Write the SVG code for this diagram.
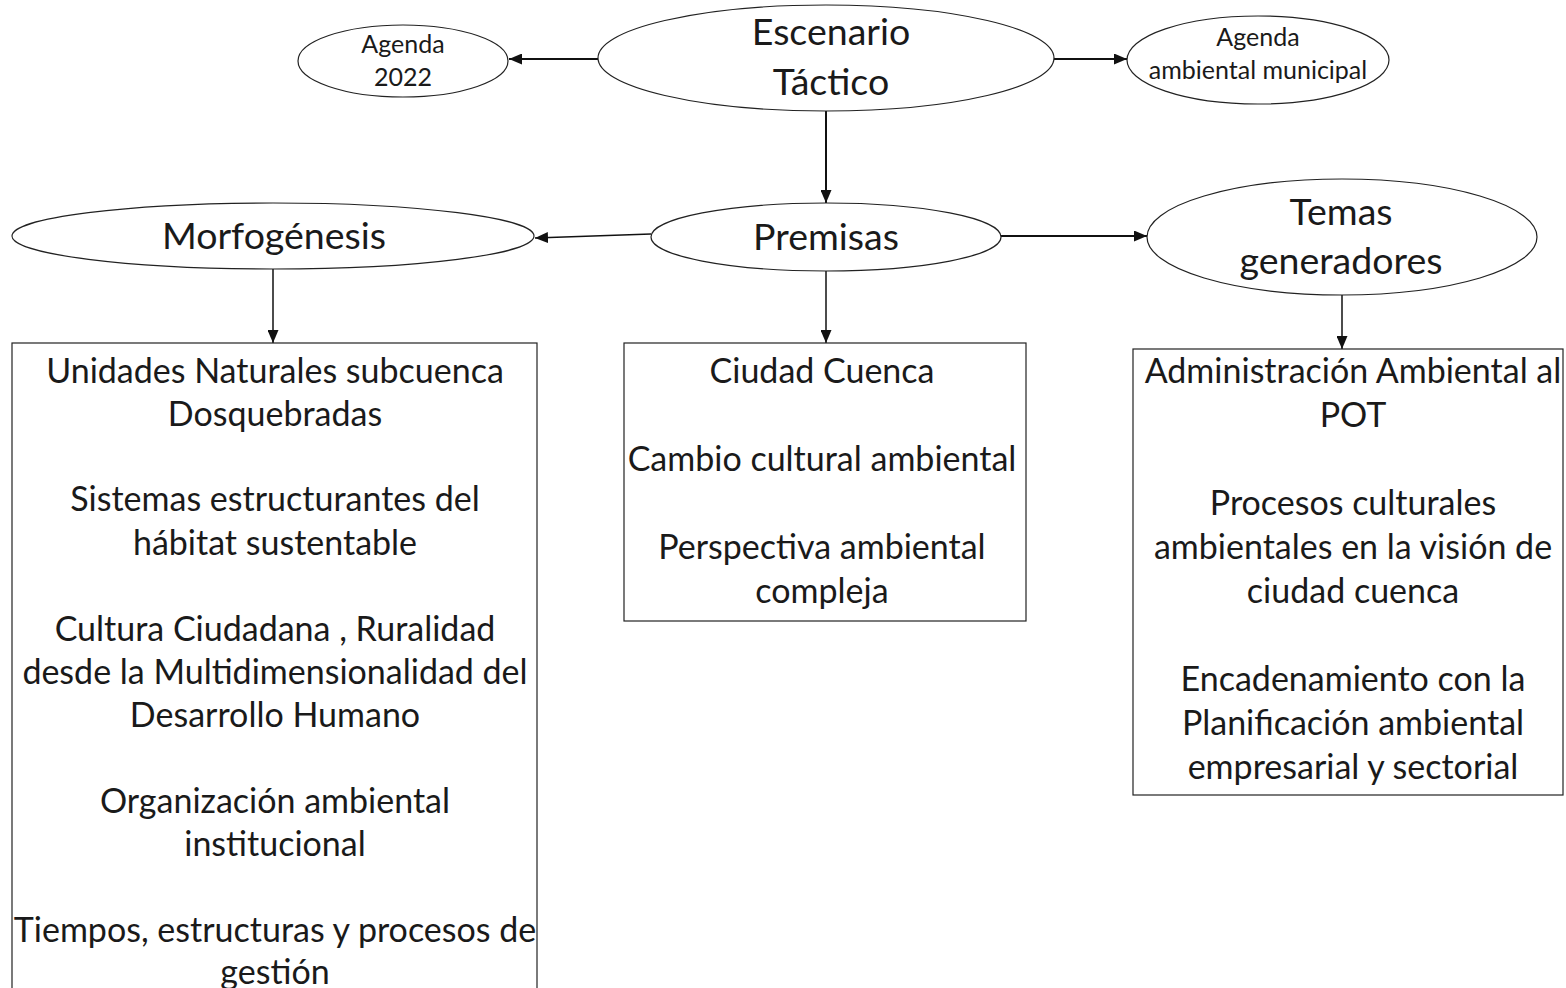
<svg xmlns="http://www.w3.org/2000/svg" width="1566" height="988" viewBox="0 0 1566 988">
<defs>
<marker id="ah" viewBox="0 0 13 11" refX="13" refY="5.5" markerWidth="13" markerHeight="11" markerUnits="userSpaceOnUse" orient="auto">
<path d="M0,0 L13,5.5 L0,11 Z" fill="#111"/>
</marker>
<style>
.shape{fill:#fff;stroke:#222;stroke-width:1.2}
.conn{stroke:#111;stroke-width:2;fill:none;marker-end:url(#ah)}
.t{font-family:Lato,"Liberation Sans",sans-serif;fill:#1a1a1a;text-anchor:middle}
.big{font-size:37.5px}
.box{font-size:34px}
.small{font-size:25px}
</style>
</defs>
<rect width="1566" height="988" fill="#fff"/>
<g id="connectors">
<line class="conn" x1="598" y1="59" x2="509" y2="59"/>
<line class="conn" x1="1053" y1="59" x2="1127" y2="59"/>
<line class="conn" x1="826" y1="111" x2="826" y2="203"/>
<line class="conn" x1="651" y1="234" x2="535" y2="238" style="stroke-width:1.5"/>
<line class="conn" x1="1001" y1="236" x2="1147" y2="236"/>
<line class="conn" x1="273" y1="269" x2="273" y2="343" style="stroke-width:1.5"/>
<line class="conn" x1="826" y1="270" x2="826" y2="343" style="stroke-width:1.5"/>
<line class="conn" x1="1342" y1="295" x2="1342" y2="349" style="stroke-width:1.5"/>
</g>
<g id="agenda2022">
<ellipse class="shape" cx="403" cy="61" rx="105" ry="36"/>
<text class="t small" x="403" y="53">Agenda</text>
<text class="t small" x="403" y="86">2022</text>
</g>
<g id="escenario">
<ellipse class="shape" cx="826" cy="58" rx="228" ry="53"/>
<text class="t big" x="831" y="45">Escenario</text>
<text class="t big" x="831" y="95">Táctico</text>
</g>
<g id="agendaMunicipal">
<ellipse class="shape" cx="1258" cy="60" rx="131" ry="44"/>
<text class="t small" x="1258" y="46">Agenda</text>
<text class="t small" x="1258" y="79">ambiental municipal</text>
</g>
<g id="morfogenesis">
<ellipse class="shape" cx="273" cy="236" rx="261" ry="33"/>
<text class="t big" x="274" y="249">Morfogénesis</text>
</g>
<g id="premisas">
<ellipse class="shape" cx="826" cy="237" rx="175" ry="34"/>
<text class="t big" x="826" y="250">Premisas</text>
</g>
<g id="temas">
<ellipse class="shape" cx="1342" cy="237" rx="195" ry="58"/>
<text class="t big" x="1341" y="225">Temas</text>
<text class="t big" x="1341" y="274">generadores</text>
</g>
<g id="boxMorfogenesis">
<rect class="shape" x="12" y="343" width="525" height="660"/>
<text class="t box" x="275" y="383">Unidades Naturales subcuenca</text>
<text class="t box" x="275" y="426">Dosquebradas</text>
<text class="t box" x="275" y="511">Sistemas estructurantes del</text>
<text class="t box" x="275" y="555">hábitat sustentable</text>
<text class="t box" x="275" y="641">Cultura Ciudadana , Ruralidad</text>
<text class="t box" x="275" y="684">desde la Multidimensionalidad del</text>
<text class="t box" x="275" y="727">Desarrollo Humano</text>
<text class="t box" x="275" y="813">Organización ambiental</text>
<text class="t box" x="275" y="856">institucional</text>
<text class="t box" x="275" y="942">Tiempos, estructuras y procesos de</text>
<text class="t box" x="275" y="984">gestión</text>
</g>
<g id="boxPremisas">
<rect class="shape" x="624" y="343" width="402" height="278"/>
<text class="t box" x="822" y="383">Ciudad Cuenca</text>
<text class="t box" x="822" y="471">Cambio cultural ambiental</text>
<text class="t box" x="822" y="559">Perspectiva ambiental</text>
<text class="t box" x="822" y="603">compleja</text>
</g>
<g id="boxTemas">
<rect class="shape" x="1133" y="349" width="430" height="446"/>
<text class="t box" x="1353" y="383">Administración Ambiental al</text>
<text class="t box" x="1353" y="427">POT</text>
<text class="t box" x="1353" y="515">Procesos culturales</text>
<text class="t box" x="1353" y="559">ambientales en la visión de</text>
<text class="t box" x="1353" y="603">ciudad cuenca</text>
<text class="t box" x="1353" y="691">Encadenamiento con la</text>
<text class="t box" x="1353" y="735">Planificación ambiental</text>
<text class="t box" x="1353" y="779">empresarial y sectorial</text>
</g>
</svg>
